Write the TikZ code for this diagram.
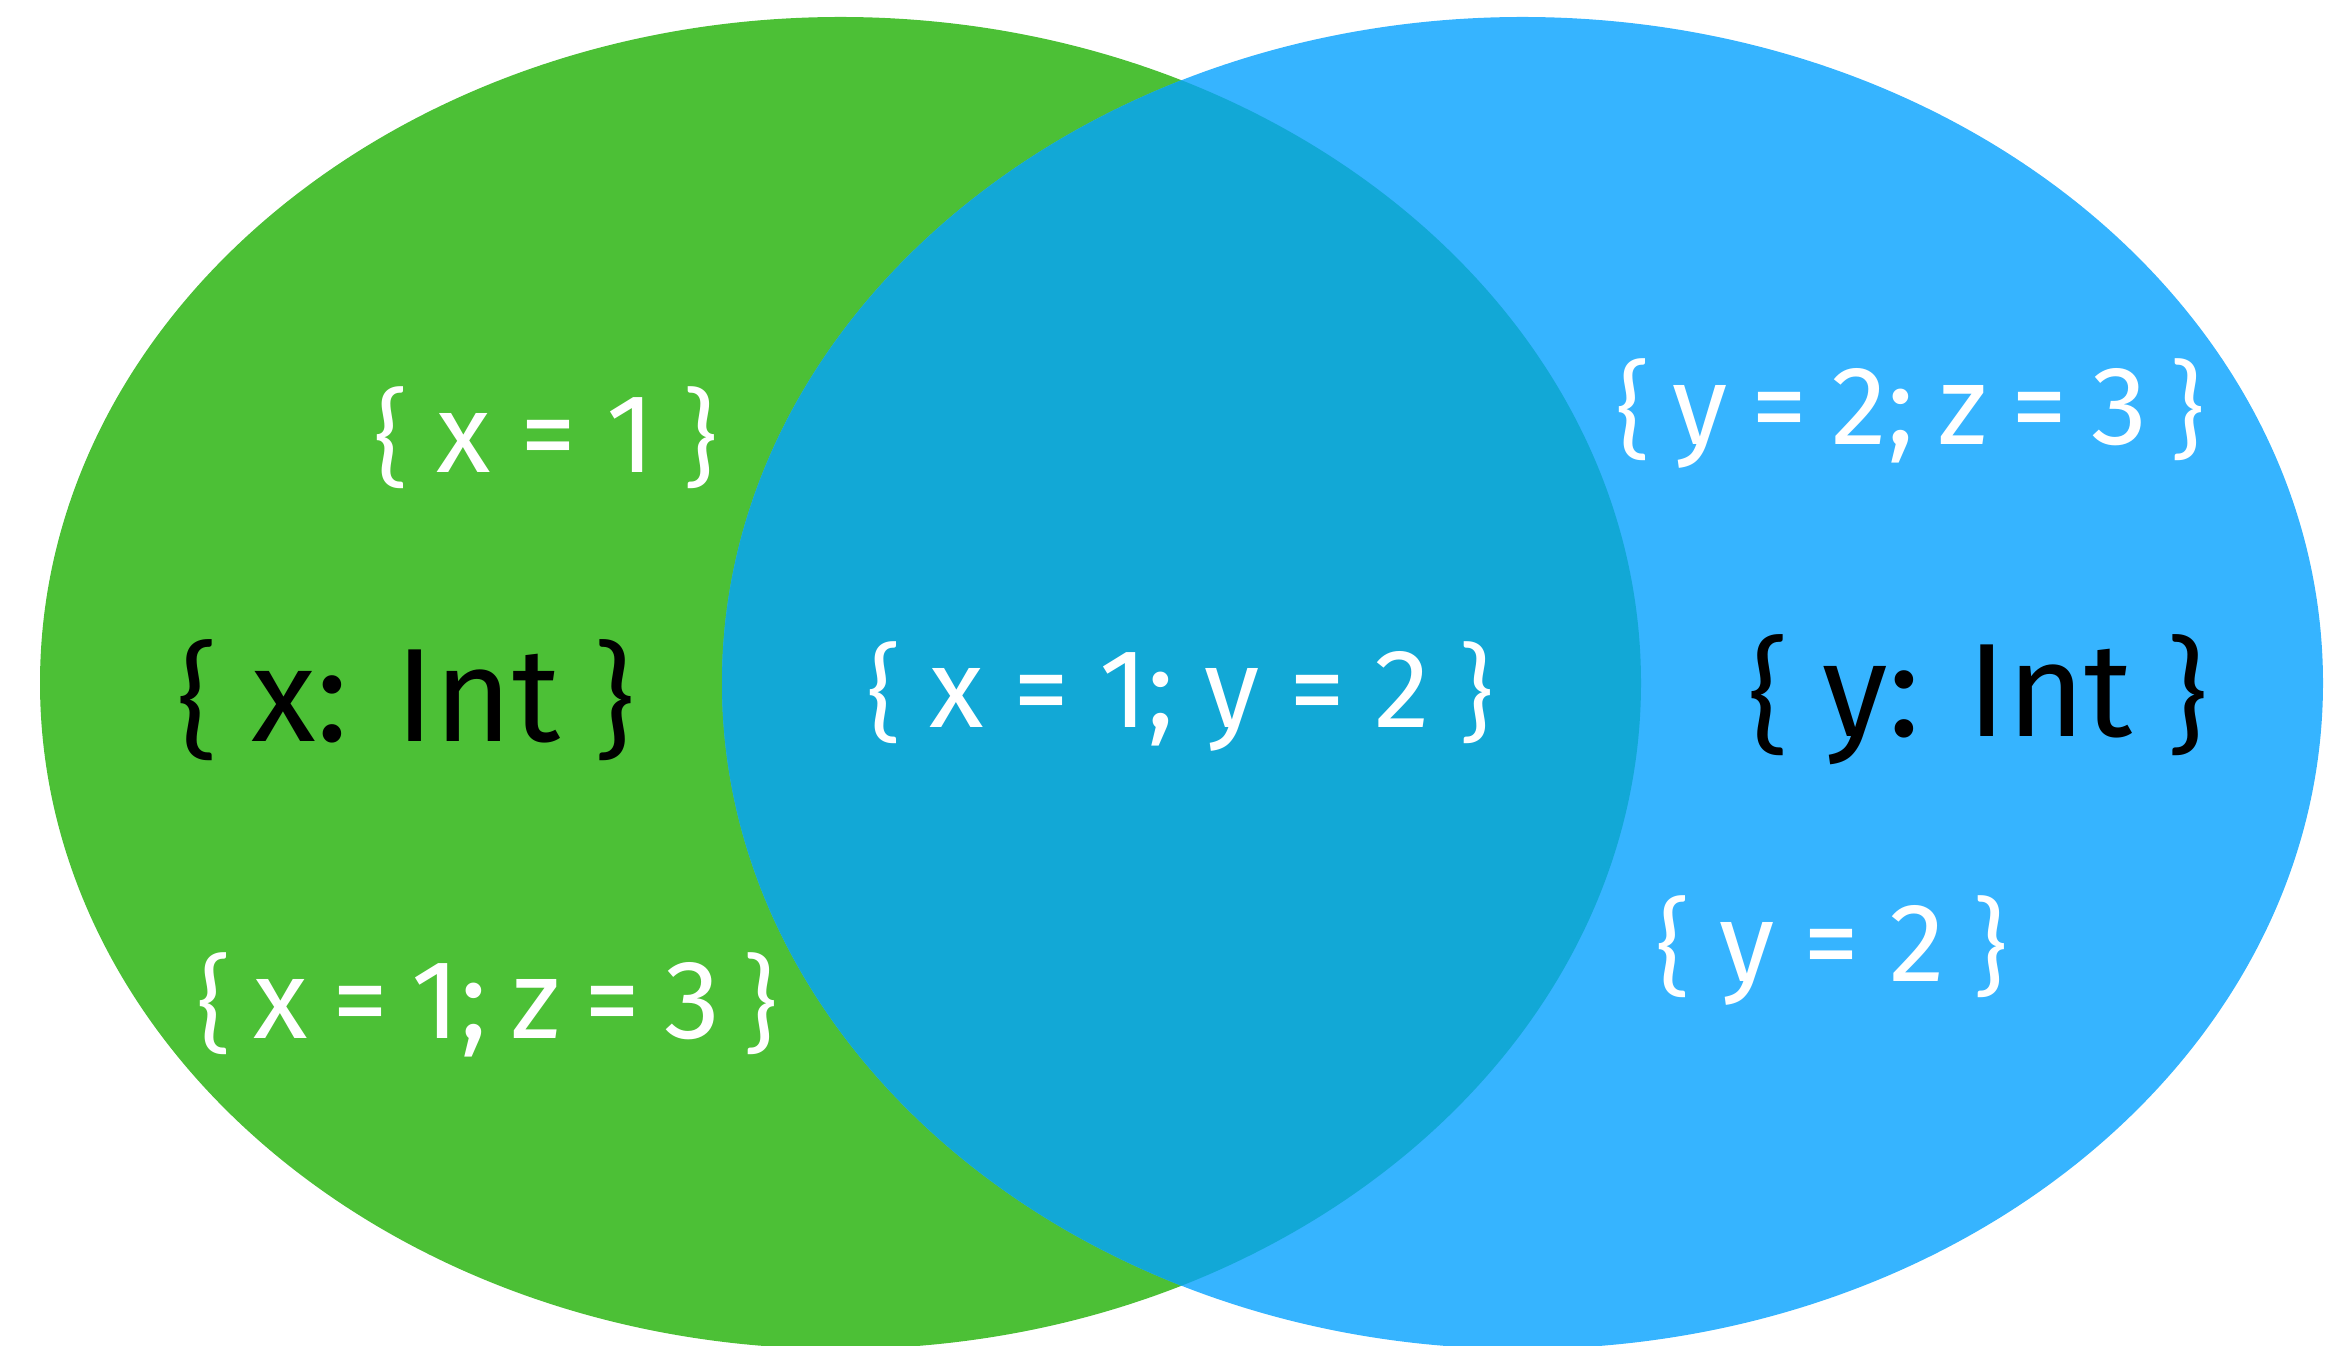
\documentclass[tikz,border=0pt]{standalone}
\usepackage{fontspec}
\setmainfont{Fira Sans}
\newfontfamily\bracefont{Lato}
\usepackage{xcolor}
\definecolor{xcol}{RGB}{76,192,54}
\definecolor{ycol}{RGB}{54,180,255}
\definecolor{xycol}{RGB}{18,168,214}
\newcommand\wordgap[1]{\spaceskip #1\relax}
\newcommand\lb{{\bracefont\{}}
\newcommand\rb{{\bracefont\}}}
\tikzset{
  % record value label, #1 = word space (0pt: the font's own)
  vallabel/.style={text=white, inner sep=0pt,
    font=\fontsize{112}{112}\selectfont\wordgap{#1}},
  vallabel/.default={0pt},
  % record type label
  typelabel/.style={text=black, inner sep=0pt,
    font=\fontsize{133}{133}\selectfont\wordgap{#1}},
  typelabel/.default={0pt},
}

\begin{document}
\begin{tikzpicture}[x=1pt, y=1pt]
  \useasboundingbox (0,0) rectangle (2351,1346);
  % the two record types
  \fill[xcol] (840.5,663) ellipse [x radius=800.5, y radius=666];
  \fill[ycol] (1522.5,663) ellipse [x radius=800.5, y radius=666];
  \begin{scope}
    \clip (840.5,663) ellipse [x radius=800.5, y radius=666];
    \fill[xycol] (1522.5,663) ellipse [x radius=800.5, y radius=666];
  \end{scope}
  % labels
  \node[typelabel] (xtype) at (406,646) {\lb\ x: Int \rb};
  \node[typelabel] (ytype) at (1978,646) {\lb\ y: Int \rb};
  \node[vallabel] (xval) at (546,908) {\lb\ x = 1 \rb};
  \node[vallabel=24pt] (xzval) at (487,341) {\lb\ x = 1; z = 3 \rb};
  \node[vallabel] (xyval) at (1180,649) {\lb\ x = 1; y = 2 \rb};
  \node[vallabel=24pt] (yzval) at (1910,932) {\lb\ y = 2; z = 3 \rb};
  \node[vallabel] (yval) at (1832,395) {\lb\ y = 2 \rb};
\end{tikzpicture}
\end{document}
